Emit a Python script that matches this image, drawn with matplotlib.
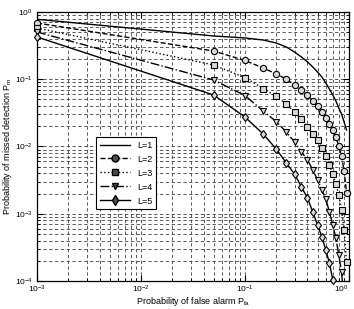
import numpy as np
import matplotlib
matplotlib.use('Agg')
import matplotlib.pyplot as plt
from matplotlib.lines import Line2D

plt.rcParams['font.family'] = ['Liberation Sans', 'DejaVu Sans']
plt.rcParams['mathtext.default'] = 'regular'

# false alarm probabilities (x)
pfa = [0.001, 0.05, 0.1, 0.15, 0.2, 0.25, 0.3, 0.35, 0.4, 0.45, 0.5,
       0.55, 0.6, 0.65, 0.7, 0.75, 0.8, 0.85, 0.9, 0.95]

# missed detection probabilities
pm_L1 = [0.779, 0.440, 0.411, 0.383, 0.346, 0.302, 0.254, 0.214, 0.181, 0.152,
         0.128, 0.108, 0.088, 0.0716, 0.0583, 0.0475, 0.0374, 0.0304, 0.0231, 0.0176]
pm_L2 = [0.686, 0.263, 0.190, 0.147, 0.120, 0.101, 0.0821, 0.0692, 0.0583, 0.0475,
         0.0400, 0.0326, 0.0265, 0.0216, 0.0176, 0.0138, 0.0102, 0.00722, 0.00432, 0.00204]
pm_L3 = [0.578, 0.163, 0.106, 0.0728, 0.0554, 0.0428, 0.0326, 0.0256, 0.0195, 0.0153,
         0.0125, 0.0095, 0.00722, 0.00531, 0.0039, 0.00277, 0.0019, 0.00114, 0.000573, 0.000192]
pm_L4 = [0.504, 0.0975, 0.0573, 0.0337, 0.0235, 0.0164, 0.0117, 0.00828, 0.0063, 0.00448,
         0.00318, 0.00226, 0.00166, 0.00106, 0.00068, 0.000436, 0.000244, 0.000136, 0.000052]
pm_L5 = [0.425, 0.0583, 0.0275, 0.0153, 0.00919, 0.00569, 0.0039, 0.0025, 0.00171, 0.00106,
         0.00068, 0.000451, 0.000289, 0.000185, 0.000104]

labels = ['L=1', 'L=2', 'L=3', 'L=4', 'L=5']
series = [pm_L1, pm_L2, pm_L3, pm_L4, pm_L5]
styles = ['-', '--', ':', '-.', '-']
markers = [None, 'o', 's', 'v', 'd']

xticks = [1e-3, 1e-2, 1e-1, 1]
xticklabels = ['$10^{-3}$', '$10^{-2}$', '$10^{-1}$', '$10^{0}$']

fig = plt.figure(figsize=(3.54, 3.09), dpi=100)
ax = fig.add_axes([0.1045, 0.0906, 0.881, 0.8706])

handles = []
for pm, ls, mk, lab in zip(series, styles, markers, labels):
    x = pfa[:len(pm)]
    ax.plot(x, pm, color='k', linestyle=ls, linewidth=1.0, zorder=3)
    if mk is not None:
        # markers inside the plot range, drawn unclipped like MATLAB
        xm = [a for a, b in zip(x, pm) if b >= 1e-4]
        ym = [b for b in pm if b >= 1e-4]
        ax.plot(xm, ym, linestyle='none', marker=mk, markersize=4.5,
                markerfacecolor='0.85', markeredgecolor='k', markeredgewidth=0.8,
                clip_on=False, zorder=4)
    handles.append(Line2D([], [], color='k', linestyle=ls, linewidth=1.0, marker=mk,
                          markersize=5, markerfacecolor='0.3', markeredgecolor='k'))

ax.set_xscale('log')
ax.set_yscale('log')
ax.set_xlim(1e-3, 1)
ax.set_ylim(1e-4, 1)
ax.set_xticks(xticks)
ax.set_xticklabels(xticklabels)
# keep the 10^0 label at the right edge inside the figure
ax.get_xticklabels()[-1].set_horizontalalignment('right')
ax.get_xticklabels()[-1].set_x(1)

ax.grid(True, which='both', color='0.25', linestyle=(0, (4, 3)), linewidth=0.6)
ax.tick_params(which='both', direction='in', top=True, right=True, labelsize=6, pad=3)
ax.tick_params(axis='x', which='both', pad=2)
ax.tick_params(which='major', length=4)
ax.tick_params(which='minor', length=2)
for s in ax.spines.values():
    s.set_linewidth(0.9)

ax.set_xlabel('Probability of false alarm P$_{fa}$', fontsize=6.5, labelpad=0)
ax.set_ylabel('Probability of missed detection P$_m$', fontsize=6.5, labelpad=1)

leg = ax.legend(handles, labels, loc='upper left', bbox_to_anchor=(0.189, 0.535),
                borderaxespad=0, fontsize=6.5, handlelength=3.4, labelspacing=0.55,
                fancybox=False, framealpha=1, edgecolor='k')
leg.get_frame().set_linewidth(0.8)

plt.savefig('out.png', dpi=100)
